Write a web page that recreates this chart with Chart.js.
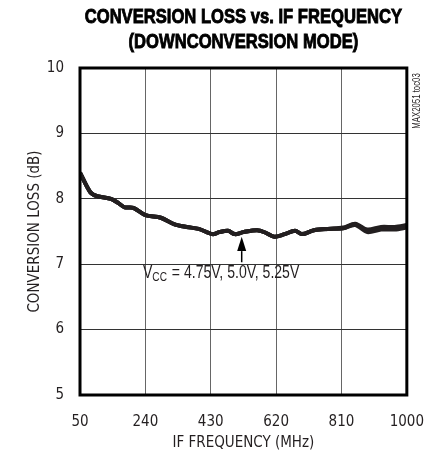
<!DOCTYPE html>
<html>
<head>
<meta charset="utf-8">
<script src="https://cdn.jsdelivr.net/npm/chart.js@4"></script>
<style>
  html, body { margin: 0; padding: 0; background: #fff; }
  #wrap { width: 436px; height: 457px; }
</style>
</head>
<body>
<div id="wrap"><canvas id="chart" width="436" height="457"></canvas></div>
<script>
// IF frequency (MHz) and conversion loss (dB)
const freqs = [50, 80, 100, 140, 160, 180, 205, 240, 285, 325, 360, 395, 435, 455, 480, 500, 525, 565, 590, 615, 645, 675, 695, 730, 770, 815, 850, 885, 925, 965, 1000];
const loss475 = [8.40, 8.10, 8.04, 8.00, 7.94, 7.87, 7.86, 7.75, 7.71, 7.61, 7.57, 7.54, 7.46, 7.49, 7.51, 7.46, 7.49, 7.52, 7.48, 7.42, 7.46, 7.51, 7.46, 7.52, 7.54, 7.55, 7.60, 7.49, 7.53, 7.53, 7.56];
const loss500 = [8.40, 8.10, 8.04, 8.00, 7.94, 7.87, 7.86, 7.75, 7.71, 7.61, 7.57, 7.54, 7.46, 7.49, 7.51, 7.46, 7.49, 7.52, 7.48, 7.42, 7.46, 7.51, 7.46, 7.52, 7.54, 7.55, 7.61, 7.51, 7.55, 7.55, 7.58];
const loss525 = [8.40, 8.10, 8.04, 8.00, 7.94, 7.87, 7.86, 7.75, 7.71, 7.61, 7.57, 7.54, 7.46, 7.49, 7.51, 7.46, 7.49, 7.52, 7.48, 7.42, 7.46, 7.51, 7.46, 7.52, 7.54, 7.56, 7.62, 7.53, 7.57, 7.57, 7.60];
const xTicks = [50, 240, 430, 620, 810, 1000];
const yTicks = [5, 6, 7, 8, 9, 10];
const titleLines = ['CONVERSION LOSS vs. IF FREQUENCY', '(DOWNCONVERSION MODE)'];

const FONT = '"DejaVu Sans Condensed", "Liberation Sans", sans-serif';
const NARROW = '"Liberation Sans", Arial, sans-serif';
const INK = '#231f20';

function pts(ys) {
  return freqs.map(function(f, i) { return { x: f, y: ys[i] }; });
}

// text squeezed horizontally to look like a condensed face
function squeezed(ctx, text, x, y, sx, align, stroke) {
  const w = ctx.measureText(text).width * sx;
  let left = x;
  if (align === 'center') left = x - w / 2;
  ctx.save();
  ctx.translate(left, y);
  ctx.scale(sx, 1);
  ctx.textAlign = 'left';
  ctx.fillText(text, 0, 0);
  if (stroke) ctx.strokeText(text, 0, 0);
  ctx.restore();
  return w;
}

// title, frame, annotation arrow and the side code
const extras = {
  id: 'extras',
  afterDraw: function(chart) {
    const ctx = chart.ctx;
    const a = chart.chartArea;
    const xs = chart.scales.x, ys = chart.scales.y;
    ctx.save();

    // title
    const cx = (a.left + a.right) / 2;
    ctx.fillStyle = '#000';
    ctx.strokeStyle = '#000';
    ctx.lineWidth = 0.9;
    ctx.textBaseline = 'middle';
    ctx.font = 'bold 20.5px ' + NARROW;
    squeezed(ctx, titleLines[0], cx, 17, 0.81, 'center', true);
    squeezed(ctx, titleLines[1], cx, 42, 0.81, 'center', true);

    ctx.lineWidth = 3;
    ctx.strokeRect(a.left, a.top, a.right - a.left, a.bottom - a.top);

    // arrow to the curves
    const ax = xs.getPixelForValue(520);
    const tip = ys.getPixelForValue(7.42);
    const headEnd = ys.getPixelForValue(7.20);
    const tail = ys.getPixelForValue(7.03);
    ctx.lineWidth = 1.5;
    ctx.beginPath();
    ctx.moveTo(ax, headEnd);
    ctx.lineTo(ax, tail);
    ctx.stroke();
    ctx.beginPath();
    ctx.moveTo(ax, tip);
    ctx.lineTo(ax - 4.5, headEnd);
    ctx.lineTo(ax + 4.5, headEnd);
    ctx.closePath();
    ctx.fill();

    // V_CC label
    let tx = xs.getPixelForValue(233);
    const ty = ys.getPixelForValue(6.87);
    ctx.fillStyle = INK;
    ctx.font = '18px ' + NARROW;
    tx += squeezed(ctx, 'V', tx, ty, 0.78);
    ctx.font = '13px ' + NARROW;
    tx += squeezed(ctx, 'CC', tx, ty + 5, 0.78) + 1;
    ctx.font = '18px ' + NARROW;
    squeezed(ctx, ' = 4.75V, 5.0V, 5.25V', tx, ty, 0.78);

    // side code
    ctx.translate(417, 101);
    ctx.rotate(-Math.PI / 2);
    ctx.font = '10px ' + NARROW;
    squeezed(ctx, 'MAX2051 toc03', 0, 0, 0.78, 'center');
    ctx.restore();
  }
};

const series = [loss475, loss500, loss525];
new Chart(document.getElementById('chart'), {
  type: 'line',
  data: {
    datasets: series.map(function(s) {
      return {
        data: pts(s),
        borderColor: INK,
        borderWidth: 4,
        pointRadius: 0,
        tension: 0.3,
        fill: false
      };
    })
  },
  options: {
    responsive: false,
    animation: false,
    events: [],
    layout: { padding: { left: 0, right: 29, top: 68, bottom: 0 } },
    plugins: {
      legend: { display: false },
      tooltip: { enabled: false },
      title: { display: false }
    },
    scales: {
      x: {
        type: 'linear',
        min: 50,
        max: 1000,
        afterBuildTicks: function(scale) { scale.ticks = xTicks.map(function(v) { return { value: v }; }); },
        afterFit: function(scale) { scale.height = 62; },
        grid: { color: '#666', lineWidth: 1, drawTicks: false },
        border: { display: false },
        ticks: {
          color: INK, font: { family: FONT, size: 15, lineHeight: 2.0 }, padding: 12, maxRotation: 0,
          callback: function(v) { return String(v); }
        },
        title: {
          display: true,
          text: 'IF FREQUENCY (MHz)',
          color: INK,
          font: { family: FONT, size: 15 },
          padding: { top: 4, bottom: 5 }
        }
      },
      y: {
        type: 'linear',
        min: 5,
        max: 10,
        afterBuildTicks: function(scale) { scale.ticks = yTicks.map(function(v) { return { value: v }; }); },
        afterFit: function(scale) { scale.width = 80; },
        grid: { color: '#333', lineWidth: 1, drawTicks: false },
        border: { display: false },
        ticks: { color: INK, font: { family: FONT, size: 15 }, padding: 16 },
        title: {
          display: true,
          text: 'CONVERSION LOSS (dB)',
          color: INK,
          font: { family: FONT, size: 15 },
          padding: { top: 26, bottom: 0 }
        }
      }
    }
  },
  plugins: [extras]
});
</script>
</body>
</html>
